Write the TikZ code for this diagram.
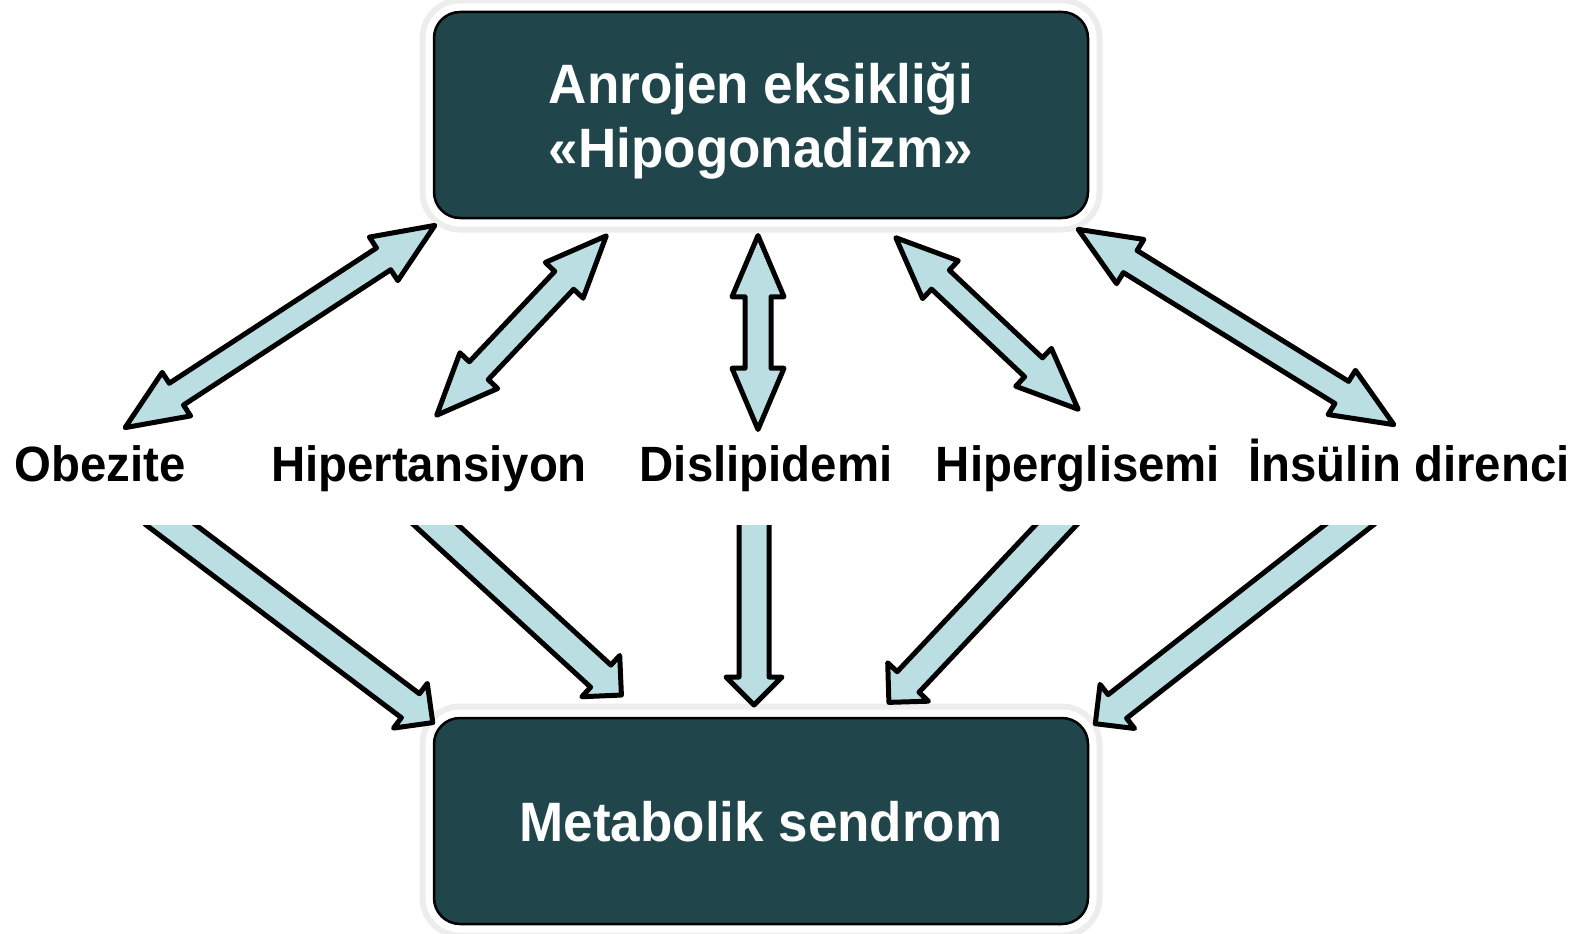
\documentclass[tikz,border=0pt]{standalone}
\usepackage{fontspec}
\setmainfont{Liberation Sans}[FakeStretch=0.955]
\usepackage{xcolor}
\usetikzlibrary{shapes.arrows, calc, positioning}

\definecolor{boxteal}{HTML}{20454A}
\definecolor{arrowblue}{HTML}{BADEE2}

% block arrow with a head at both ends, from #1 to #2
\newcommand{\twoway}[2]{%
  \path let \p1=($(#2)-(#1)$), \n1={veclen(\x1,\y1)} in
    (#1) -- (#2) node[midway, sloped, allow upside down, dblarrow, minimum height=\n1-5pt] {};}
% block arrow from #1 (tail, cut off above) to #2 (tip)
\newcommand{\oneway}[2]{%
  \path let \p2=($(#1)!-30pt!(#2)$), \p1=($(#2)-(\p2)$), \n1={veclen(\x1,\y1)} in
    (\p2) -- (#2) node[midway, sloped, allow upside down, sglarrow, minimum height=\n1-3pt] {};}

\begin{document}
\begin{tikzpicture}[x=1pt,y=-1pt]
\tikzstyle{bigbox}=[rounded corners=26pt, fill=boxteal, draw=black, line width=2.5pt,
  minimum width=654pt, minimum height=206pt, text=white, align=center, text depth=0pt,
  font=\bfseries\fontsize{55.5}{64}\selectfont,
  preaction={draw=black!7, line width=29pt}, preaction={draw=white, line width=17pt}]
\tikzstyle{lbl}=[anchor=base, inner sep=0pt, font=\bfseries\fontsize{49.6}{58}\selectfont]
\tikzstyle{dblarrow}=[double arrow, draw=black, fill=arrowblue, line width=5pt, line join=round,
  inner xsep=0pt, inner ysep=10.5pt, double arrow head extend=13pt, double arrow tip angle=46]
\tikzstyle{sglarrow}=[single arrow, draw=black, fill=arrowblue, line width=5pt, line join=round,
  inner xsep=0pt, inner ysep=12.5pt, single arrow head extend=13pt, single arrow tip angle=90]

\useasboundingbox (0,0) rectangle (1587,934);

% Boxes
\node[bigbox] (andro) at (761,115) {Anrojen eksikliği\\«Hipogonadizm»};
\node[bigbox] (metab) at (761,821) {Metabolik sendrom};

% Labels
\node[lbl] (obez) at (100,481) {Obezite};
\node[lbl] (hipt) at (429,481) {Hipertansiyon};
\node[lbl] (disl) at (766,481) {Dislipidemi};
\node[lbl] (hipg) at (1078,481) {Hiperglisemi};
\node[lbl] (insl) at (1409,481) {İnsülin direnci};

% Arrow ends, upper row
\coordinate (u1) at (437,224); \coordinate (v1) at (123,429);
\coordinate (u2) at (608,234); \coordinate (v2) at (435,417);
\coordinate (u3) at (758,233); \coordinate (v3) at (758,432);
\coordinate (u4) at (894,236); \coordinate (v4) at (1080,411);
\coordinate (u5) at (1076,228); \coordinate (v5) at (1396,426);
% Arrow ends, lower row
\coordinate (s1) at (171,525); \coordinate (t1) at (428,719);
\coordinate (s2) at (436,525); \coordinate (t2) at (617,691);
\coordinate (s3) at (754,525); \coordinate (t3) at (754,699);
\coordinate (s4) at (1056,525); \coordinate (t4) at (893,698);
\coordinate (s5) at (1349,525); \coordinate (t5) at (1100,720);

\twoway{u1}{v1}
\twoway{u2}{v2}
\twoway{u3}{v3}
\twoway{u4}{v4}
\twoway{u5}{v5}

\begin{scope}
\clip (0,525) rectangle (1587,934);
\oneway{s1}{t1}
\oneway{s2}{t2}
\oneway{s3}{t3}
\oneway{s4}{t4}
\oneway{s5}{t5}
\end{scope}

\end{tikzpicture}
\end{document}
